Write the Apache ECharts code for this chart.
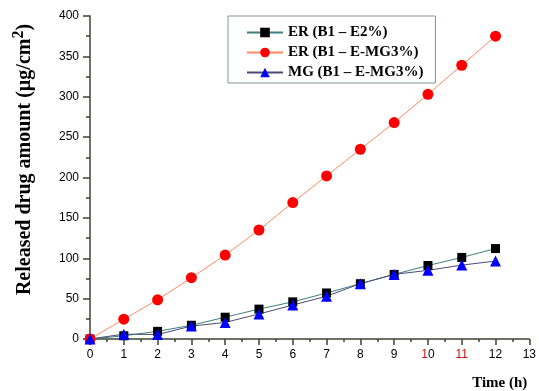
<!DOCTYPE html>
<html>
<head>
<meta charset="utf-8">
<script src="https://cdn.jsdelivr.net/npm/echarts@6/dist/echarts.min.js"></script>
<style>html,body{margin:0;padding:0;background:#fff}#c{width:539px;height:391px}</style>
</head>
<body>
<div id="c"></div>
<script>
var times = [0,1,2,3,4,5,6,7,8,9,10,11,12];
var erE2 = [0,4,9.5,17,27,37,46,57,68.5,80,91,101,112];
var erEMG3 = [0,24.6,48.5,76,104,135,169,202,235,268,303,339,375];
var mgEMG3 = [0,6,5.5,16,20.5,31,42,53,68.5,80,85,91.5,96.5];
var xTicks = ['0','1','2','3','4','5','6','7','8','9','10','11','12','13'];

function pairs(v){ return v.map(function(y,i){ return [times[i], y]; }); }

var serif = '"Liberation Serif", "Times New Roman", serif';
var sans = '"Liberation Sans", Arial, sans-serif';
var axisCol = '#3a4530';

var chart = echarts.init(document.getElementById('c'));
chart.setOption({
  animation: false,
  grid: {left: 90, right: 6, top: 16, bottom: 50, containLabel: false},
  legend: {
    orient: 'vertical', left: 228, top: 16,
    padding: [9, 12, 3, 18], itemGap: 5, itemWidth: 36, itemHeight: 12,
    borderColor: '#7f9a8c', borderWidth: 1,
    textStyle: {fontFamily: serif, fontWeight: 'bold', fontSize: 15, color: '#000'},
    data: ['ER (B1 – E2%)', 'ER (B1 – E-MG3%)', 'MG (B1 – E-MG3%)']
  },
  xAxis: {
    type: 'value', min: 0, max: 13, interval: 1,
    name: 'Time (h)', nameLocation: 'end', nameGap: -2,
    nameTextStyle: {fontFamily: serif, fontWeight: 'bold', fontSize: 15, color: '#000', align: 'right', verticalAlign: 'top', padding: [37, 0, 0, 0]},
    axisLine: {show: true, onZero: false, lineStyle: {color: axisCol, width: 1.5}},
    axisTick: {show: true, length: 6, lineStyle: {color: axisCol, width: 1.5}},
    minorTick: {show: true, splitNumber: 2, length: 3, lineStyle: {color: axisCol, width: 1.5}},
    splitLine: {show: false},
    axisLabel: {
      fontFamily: sans, fontSize: 12, color: '#000', margin: 10,
      formatter: function(v){
        var s = xTicks[Math.round(v)];
        if (s === '10') return '{r|1}0';
        if (s === '11') return '{r|11}';
        return s;
      },
      rich: {r: {color: '#d01010', fontFamily: sans, fontSize: 12}}
    }
  },
  yAxis: {
    type: 'value', min: 0, max: 400, interval: 50,
    name: '{t|Released drug amount (µg/cm}{s|2}{t|)}',
    nameLocation: 'middle', nameGap: 55, nameRotate: 90,
    nameTextStyle: {
      padding: [0, 0, 0, 36],
      rich: {
        t: {fontFamily: serif, fontWeight: 'bold', fontSize: 20, color: '#000', lineHeight: 24, verticalAlign: 'bottom'},
        s: {fontFamily: serif, fontWeight: 'bold', fontSize: 16, color: '#000', lineHeight: 24, verticalAlign: 'top'}
      }
    },
    axisLine: {show: true, onZero: false, lineStyle: {color: axisCol, width: 1.5}},
    axisTick: {show: true, length: 7, lineStyle: {color: axisCol, width: 1.5}},
    minorTick: {show: true, splitNumber: 2, length: 4, lineStyle: {color: axisCol, width: 1.5}},
    splitLine: {show: false},
    axisLabel: {fontFamily: sans, fontSize: 12, color: '#000', margin: 11}
  },
  series: [
    {
      name: 'ER (B1 – E2%)', type: 'line', data: pairs(erE2),
      symbol: 'rect', symbolSize: 9,
      itemStyle: {color: '#000'},
      lineStyle: {color: '#3f7f7f', width: 1}
    },
    {
      name: 'ER (B1 – E-MG3%)', type: 'line', data: pairs(erEMG3),
      symbol: 'circle', symbolSize: 11,
      itemStyle: {color: '#ff0000'},
      lineStyle: {color: '#ff8a60', width: 1}
    },
    {
      name: 'MG (B1 – E-MG3%)', type: 'line', data: pairs(mgEMG3),
      symbol: 'triangle', symbolSize: 11,
      itemStyle: {color: '#0000ff'},
      lineStyle: {color: '#4a4a78', width: 1}
    }
  ]
});
</script>
</body>
</html>
